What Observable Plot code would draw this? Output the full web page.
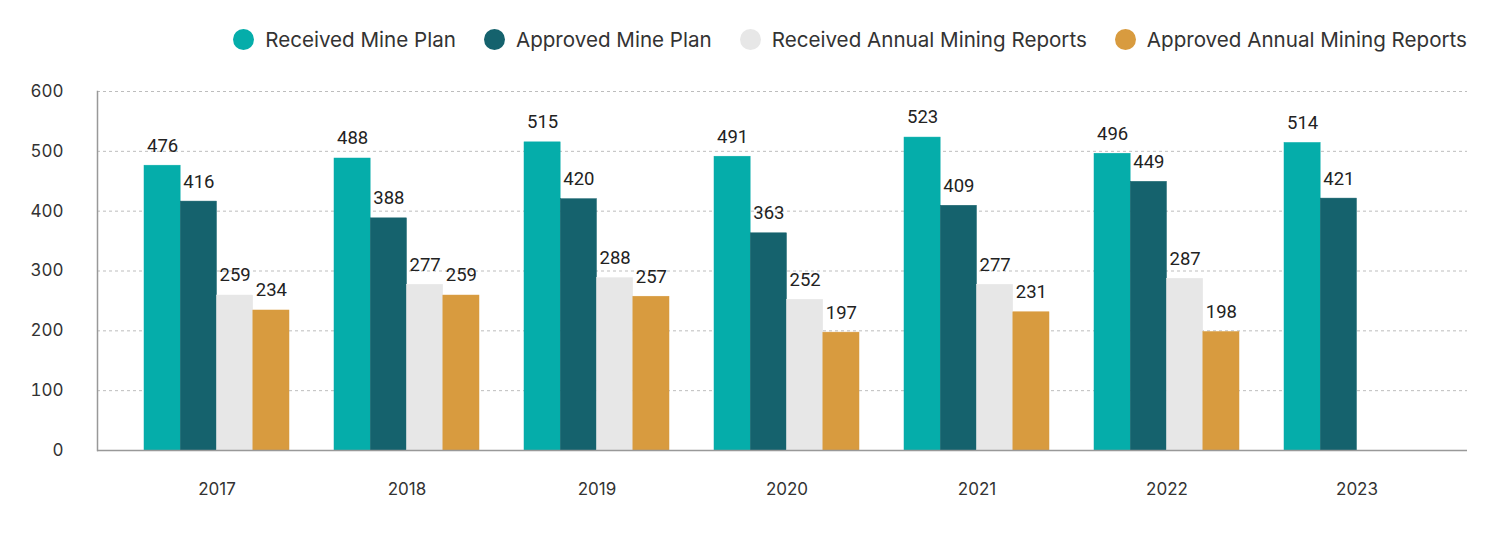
<!DOCTYPE html>
<html>
<head>
<meta charset="utf-8">
<script src="https://cdn.jsdelivr.net/npm/d3@7"></script>
<script src="https://cdn.jsdelivr.net/npm/@observablehq/plot@0.6"></script>
<style>
  html, body { margin: 0; padding: 0; background: #fff; }
  #legend { height: 78px; box-sizing: border-box; display: flex; justify-content: flex-end; align-items: center; padding-right: 33px; font-family: Inter, sans-serif; font-size: 20.6px; color: #333; }
  .item { display: flex; align-items: center; margin-left: 28px; }
  .sw { width: 21px; height: 21px; border-radius: 50%; margin-right: 11px; }
</style>
</head>
<body>
<div id="legend"></div>
<div id="chart"></div>
<script>
const years = ["2017", "2018", "2019", "2020", "2021", "2022", "2023"];
const seriesNames = ["Received Mine Plan", "Approved Mine Plan", "Received Annual Mining Reports", "Approved Annual Mining Reports"];
const seriesColors = ["#05ADAA", "#15626D", "#E7E7E7", "#D89B3F"];
const receivedMinePlan = [476, 488, 515, 491, 523, 496, 514];
const approvedMinePlan = [416, 388, 420, 363, 409, 449, 421];
const receivedAnnualReports = [259, 277, 288, 252, 277, 287, null];
const approvedAnnualReports = [234, 259, 257, 197, 231, 198, null];
const yTicks = [0, 100, 200, 300, 400, 500, 600];

const seriesValues = [receivedMinePlan, approvedMinePlan, receivedAnnualReports, approvedAnnualReports];

// legend
const legend = document.getElementById("legend");
seriesNames.forEach((name, i) => {
  const it = document.createElement("div");
  it.className = "item";
  const sw = document.createElement("div");
  sw.className = "sw";
  sw.style.background = seriesColors[i];
  const t = document.createElement("span");
  t.textContent = name;
  it.appendChild(sw); it.appendChild(t);
  legend.appendChild(it);
});

const W = 1500, H = 457;
const mL = 97, mR = 33, mT = 13, mB = 85;
const pIn = 0.237, pOut = 0.22, align = 0.55;
const band = d3.scaleBand().domain(years).range([mL, W - mR]).paddingInner(pIn).paddingOuter(pOut).align(align);
const bw = band.bandwidth() / 4;

const marks = [
  Plot.ruleY(yTicks.filter(d => d > 0), {stroke: "#bdbdbd", strokeDasharray: "3,3", strokeWidth: 1}),
];
seriesValues.forEach((vals, i) => {
  const data = years.map((y, j) => ({year: y, value: vals[j]})).filter(d => d.value != null);
  marks.push(Plot.barY(data, {x: "year", y: "value", fill: seriesColors[i], stroke: seriesColors[i], strokeWidth: 0.5,
    insetLeft: i * bw, insetRight: (3 - i) * bw}));
  marks.push(Plot.text(data, {x: "year", y: "value", text: d => String(d.value), dx: (i - 1.5) * bw, dy: -20,
    fill: "#222", fontSize: 18.5, fontFamily: "Roboto, sans-serif"}));
});
marks.push(Plot.ruleY([0], {stroke: "#999", strokeWidth: 1.5}));
marks.push(Plot.frame({anchor: "left", stroke: "#999", strokeWidth: 1.5}));
marks.push(Plot.axisY(yTicks, {tickSize: 0, tickPadding: 34, fontSize: 17, fontFamily: "Inter, sans-serif", fill: "#333", label: null}));
marks.push(Plot.axisX({tickSize: 0, tickPadding: 32, fontSize: 17, fontFamily: "Inter, sans-serif", fill: "#333", label: null}));

const chart = Plot.plot({
  width: W, height: H,
  marginLeft: mL, marginRight: mR, marginTop: mT, marginBottom: mB,
  style: {fontFamily: "Inter, sans-serif", color: "#333", background: "#fff", overflow: "visible"},
  x: {type: "band", domain: years, paddingInner: pIn, paddingOuter: pOut, align: align, label: null},
  y: {domain: [0, 600], label: null},
  marks
});
document.getElementById("chart").appendChild(chart);
</script>
</body>
</html>
